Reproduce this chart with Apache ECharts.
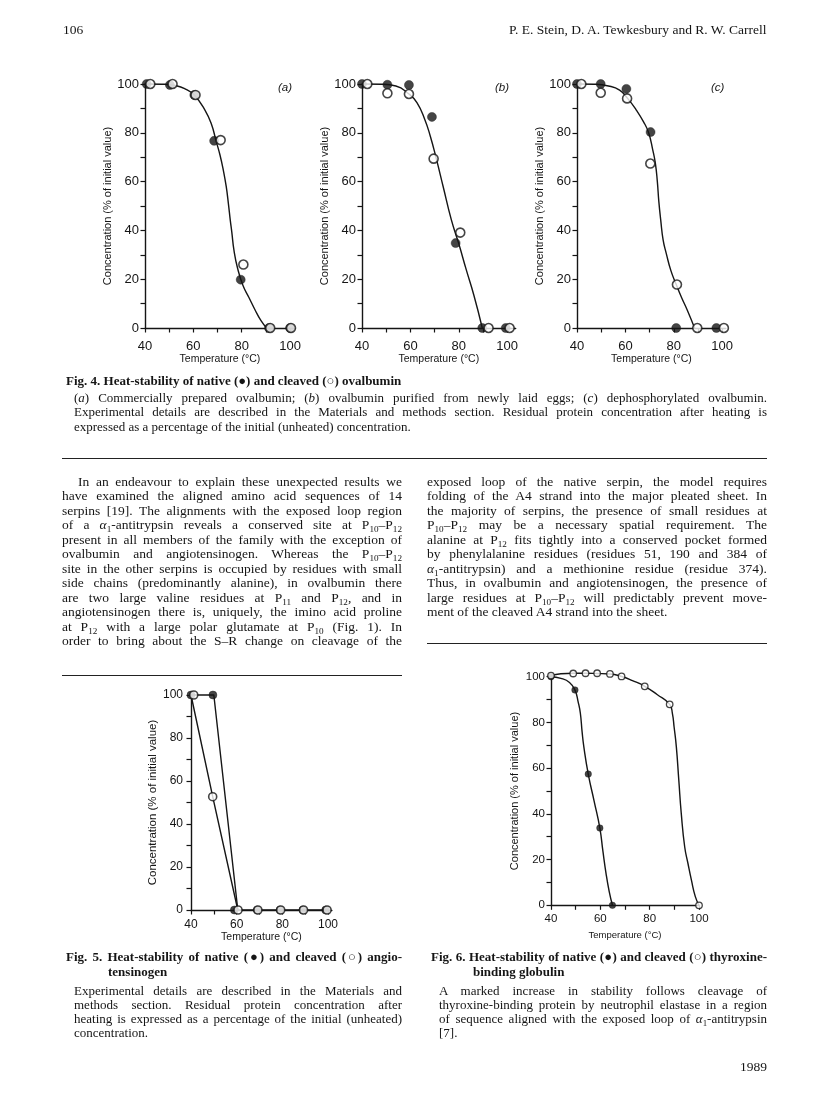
<!DOCTYPE html>
<html>
<head>
<meta charset="utf-8">
<script src="https://cdn.jsdelivr.net/npm/echarts@6/dist/echarts.min.js"></script>
<style>
body { margin: 0; background: #fff; }
#page { position: relative; width: 816px; height: 1097px; overflow: hidden;
  font-family: "Liberation Serif", "Times New Roman", serif; color: #151515; }
#chart { position: absolute; left: 0; top: 0; width: 816px; height: 1097px; }
.ln { position: absolute; white-space: nowrap; line-height: 14px; }
.jl { text-align: justify; text-align-last: justify; white-space: normal; }
.bold { font-weight: bold; }
.rule { position: absolute; height: 0; border-top: 1.3px solid #222; }
sub { font-size: 68%; line-height: 0; vertical-align: -0.3em; }
</style>
</head>
<body>
<div id="page">
  <div id="chart"></div>
</div>
<script>
// ---- data (temperature, % of initial value) ----

// Fig. 4 (a) commercially prepared ovalbumin
var fig4aNative  = [[40.7,100],[50.3,99.6],[60.4,95.5],[68.6,76.7],[79.6,19.8],[91.3,0],[100,0]];
var fig4aCleaved = [[42.2,100],[51.4,100],[60.9,95.5],[71.3,77],[80.7,26],[91.8,0],[100.4,0]];
var fig4aCurve   = [[40,100],[47,99.9],[53,99.3],[57,97.8],[60.4,95.5],[64.8,89.3],[67.5,83.5],
                    [69.4,76.7],[71,71],[72.4,64.7],[73.6,58],[74.5,51],[75.3,44],[75.9,39.4],
                    [76.8,31.9],[78.3,24.5],[80.5,17.5],[83,12.5],[85.5,7.5],[88,3],[90.3,0]];

// Fig. 4 (b) ovalbumin from newly laid eggs
var fig4bNative  = [[40,100],[50.5,99.7],[59.4,99.6],[68.9,86.5],[78.7,34.8],[89.7,0],[99.4,0]];
var fig4bCleaved = [[42.2,100],[50.5,96.2],[59.4,95.9],[69.6,69.4],[80.6,39.1],[92.3,0],[101,0]];
var fig4bCurve   = [[40,100],[48,99.9],[54,99.2],[59.4,95.9],[62.7,92.4],[65.9,85.6],[68.2,78.7],
                    [70.7,69.4],[73.5,58.1],[76.9,44.4],[80,34.5],[83.1,23.8],[86.2,13.5],[89.7,0]];

// Fig. 4 (c) dephosphorylated ovalbumin
var fig4cNative  = [[40,100],[49.8,100],[60.4,98],[70.4,80.3],[81,0],[97.6,0]];
var fig4cCleaved = [[41.8,100],[49.8,96.4],[60.7,94.1],[70.3,67.4],[81.3,17.8],[89.7,0],[100.7,0]];
var fig4cCurve   = [[40,100],[47,99.9],[53,99.2],[57.6,97.5],[61,94],[64.5,89.3],[67.5,84.5],
                    [69.6,80],[71.3,73],[72.4,67.4],[73.2,60],[73.8,52],[74.6,44.2],[75.6,36],
                    [76.9,30.5],[78.8,23.5],[81,17.8],[83.2,12.5],[85.5,7.5],[88.6,0]];

// Fig. 5 angiotensinogen
var fig5Native       = [[40,100],[49.6,100],[59,0],[69,0],[79,0],[89,0],[99,0]];
var fig5Cleaved      = [[41.2,100],[49.5,52.7],[60.6,0],[69.3,0],[79.3,0],[89.3,0],[99.6,0]];
var fig5NativeLine   = [[40,100],[50,100],[60.5,0]];
var fig5CleavedLine  = [[40,100],[49.5,52.7],[60.5,0],[100,0]];

// Fig. 6 thyroxine-binding globulin
var fig6Native       = [[40,100],[49.7,94.2],[55.1,57.4],[59.8,33.8],[64.9,0]];
var fig6Cleaved      = [[40,100.5],[49,101.4],[54,101.5],[58.7,101.5],[63.9,101.2],[68.6,100.1],
                        [78,95.8],[88.1,87.9],[100,0]];
var fig6NativeLine   = [[40,100],[44,99.3],[47.5,97.5],[49.7,94.2],[51,89],[51.9,84],[52.6,76],
                        [53.3,69.4],[55.1,57.4],[57.5,45.5],[59.8,33.8],[61,24],[62.3,14],
                        [63.6,6],[64.9,0]];
var fig6CleavedLine  = [[40,100.5],[44,101.3],[49,101.5],[54,101.5],[58.7,101.4],[63.9,101.2],
                        [68.6,100.1],[73,98.3],[78,95.8],[83,92.2],[88.1,87.9],[89.2,84],
                        [89.9,78],[90.8,69.4],[91.8,54.8],[92.8,40.2],[94.2,25.5],[95.5,18.4],
                        [96.9,11.1],[98.5,3.8],[100,0]];

var tempTicks  = [40,50,60,70,80,90,100];
var tempLabels = [40,60,80,100];
var concTicks  = [0,10,20,30,40,50,60,70,80,90,100];
var concLabels = [0,20,40,60,80,100];

// ---- text of the page ----
var leftLines = [
  'In an endeavour to explain these unexpected results we',
  'have examined the aligned amino acid sequences of 14',
  'serpins [19]. The alignments with the exposed loop region',
  'of a <i>α</i><sub>1</sub>-antitrypsin reveals a conserved site at P<sub>10</sub>–P<sub>12</sub>',
  'present in all members of the family with the exception of',
  'ovalbumin and angiotensinogen. Whereas the P<sub>10</sub>–P<sub>12</sub>',
  'site in the other serpins is occupied by residues with small',
  'side chains (predominantly alanine), in ovalbumin there',
  'are two large valine residues at P<sub>11</sub> and P<sub>12</sub>, and in',
  'angiotensinogen there is, uniquely, the imino acid proline',
  'at P<sub>12</sub> with a large polar glutamate at P<sub>10</sub> (Fig. 1). In',
  'order to bring about the S–R change on cleavage of the'
];
var rightLines = [
  'exposed loop of the native serpin, the model requires',
  'folding of the A4 strand into the major pleated sheet. In',
  'the majority of serpins, the presence of small residues at',
  'P<sub>10</sub>–P<sub>12</sub> may be a necessary spatial requirement. The',
  'alanine at P<sub>12</sub> fits tightly into a conserved pocket formed',
  'by phenylalanine residues (residues 51, 190 and 384 of',
  '<i>α</i><sub>1</sub>-antitrypsin) and a methionine residue (residue 374).',
  'Thus, in ovalbumin and angiotensinogen, the presence of',
  'large residues at P<sub>10</sub>–P<sub>12</sub> will predictably prevent move-',
  'ment of the cleaved A4 strand into the sheet.'
];
var fig4Caption = [
  '(<i>a</i>) Commercially prepared ovalbumin; (<i>b</i>) ovalbumin purified from newly laid eggs; (<i>c</i>) dephosphorylated ovalbumin.',
  'Experimental details are described in the Materials and methods section. Residual protein concentration after heating is',
  'expressed as a percentage of the initial (unheated) concentration.'
];
var fig5Caption = [
  'Experimental details are described in the Materials and',
  'methods section. Residual protein concentration after',
  'heating is expressed as a percentage of the initial (unheated)',
  'concentration.'
];
var fig6Caption = [
  'A marked increase in stability follows cleavage of',
  'thyroxine-binding protein by neutrophil elastase in a region',
  'of sequence aligned with the exposed loop of <i>α</i><sub>1</sub>-antitrypsin',
  '[7].'
];

var page = document.getElementById('page');

function addLine(html, x, y, w, size, cls) {
  var d = document.createElement('div');
  d.className = 'ln' + (cls ? ' ' + cls : '');
  d.style.left = x + 'px';
  d.style.top = (y - 7) + 'px';
  if (w) d.style.width = w + 'px';
  d.style.fontSize = size + 'px';
  d.innerHTML = html;
  page.appendChild(d);
  return d;
}
// justified block, last line left aligned unless it continues
function addBlock(lines, x, y0, w, lh, size, lastJustified, indent) {
  lines.forEach(function (s, i) {
    var last = i === lines.length - 1 && !lastJustified;
    var ind = (i === 0 && indent) ? indent : 0;
    addLine(s, x + ind, y0 + i * lh, last ? null : w - ind, size, last ? '' : 'jl');
  });
}
function addRule(x, y, w) {
  var d = document.createElement('div');
  d.className = 'rule';
  d.style.left = x + 'px'; d.style.top = y + 'px'; d.style.width = w + 'px';
  page.appendChild(d);
}

var LX = 62, LW = 340, RX = 427, RW = 340;

// running head
addLine('106', 63, 30, null, 13.5);
var head = addLine('P. E. Stein, D. A. Tewkesbury and R. W. Carrell', 0, 30, null, 13.5);
head.style.left = (RX + RW - head.offsetWidth) + 'px';

// Fig. 4 caption
addLine('Fig. 4. Heat-stability of native (●) and cleaved (○) ovalbumin', LX + 4, 381, null, 13, 'bold');
addBlock(fig4Caption, LX + 12, 397.5, RX + RW - LX - 12, 14.5, 13, false);
addRule(LX, 458, RX + RW - LX);

// body text
addBlock(leftLines, LX, 481.5, LW, 14.5, 13.5, true, 16);
addBlock(rightLines, RX, 481.5, RW, 14.5, 13.5, false);
addRule(LX, 675, LW);
addRule(RX, 643, RW);

// Fig. 5 / Fig. 6 captions
addLine('Fig. 5. Heat-stability of native (●) and cleaved (○) angio-', LX + 4, 957, LW - 4, 13, 'bold jl');
addLine('tensinogen', LX + 46, 972, null, 13, 'bold');
addBlock(fig5Caption, LX + 12, 991, LW - 12, 14, 13, false);
addLine('Fig. 6. Heat-stability of native (●) and cleaved (○) thyroxine-', RX + 4, 957, RW - 4, 13, 'bold jl');
addLine('binding globulin', RX + 46, 972, null, 13, 'bold');
addBlock(fig6Caption, RX + 12, 991, RW - 12, 14, 13, false);

var foot = addLine('1989', 0, 1067, null, 13.5);
foot.style.left = (RX + RW - foot.offsetWidth) + 'px';

// ---- charts ----
var SANS = '"Liberation Sans", Arial, Helvetica, sans-serif';
var INK = '#151515';

// layout of the five plot areas (pixels on the page)
var panels = [
  { left: 145, top: 84,    xmax: 102,   pxPer: 2.417, height: 244,   lab: 13,   name: 11,   xName: 10.5, xGap: 25, yGap: 32, xMargin: 12, yMargin: 6, sym: 9 },
  { left: 362, top: 84,    xmax: 103.5, pxPer: 2.42,  height: 244,   lab: 13,   name: 11,   xName: 10.5, xGap: 25, yGap: 32, xMargin: 12, yMargin: 6, sym: 9 },
  { left: 577, top: 84,    xmax: 101.5, pxPer: 2.42,  height: 244,   lab: 13,   name: 11,   xName: 10.5, xGap: 25, yGap: 32, xMargin: 12, yMargin: 6, sym: 9 },
  { left: 191, top: 695,   xmax: 101.7, pxPer: 2.283, height: 215,   lab: 12,   name: 11.5, xName: 10.5, xGap: 22, yGap: 30, xMargin: 9,  yMargin: 8, sym: 8 },
  { left: 551, top: 676.7, xmax: 100,   pxPer: 2.467, height: 228.6, lab: 11.5, name: 11,   xName: 9.5,  xGap: 25, yGap: 31, xMargin: 8,  yMargin: 6, sym: 6.5 }
];

var grids = [], xAxes = [], yAxes = [], series = [];
panels.forEach(function (p, i) {
  grids.push({ left: p.left, top: p.top, width: (p.xmax - 40) * p.pxPer, height: p.height });
  xAxes.push({
    gridIndex: i, type: 'value', min: 40, max: p.xmax,
    name: 'Temperature (°C)', nameLocation: 'middle', nameGap: p.xGap,
    nameTextStyle: { fontFamily: SANS, fontSize: p.xName, color: INK },
    axisLine: { onZero: false, lineStyle: { color: INK, width: 1.4 } },
    axisTick: { customValues: tempTicks, length: 4.5, lineStyle: { color: INK, width: 1.2 } },
    axisLabel: { customValues: tempLabels, fontFamily: SANS, fontSize: p.lab, color: INK, margin: p.xMargin },
    splitLine: { show: false }
  });
  yAxes.push({
    gridIndex: i, type: 'value', min: 0, max: 100,
    name: 'Concentration (% of initial value)', nameLocation: 'middle', nameGap: p.yGap,
    nameTextStyle: { fontFamily: SANS, fontSize: p.name, color: INK },
    axisLine: { onZero: false, lineStyle: { color: INK, width: 1.4 } },
    axisTick: { customValues: concTicks, length: 4.5, lineStyle: { color: INK, width: 1.2 } },
    axisLabel: { customValues: concLabels, fontFamily: SANS, fontSize: p.lab, color: INK, margin: p.yMargin },
    splitLine: { show: false }
  });
});

function curve(i, data, smooth) {
  series.push({ type: 'line', xAxisIndex: i, yAxisIndex: i, data: data, smooth: smooth,
    showSymbol: false, symbol: 'none', clip: false, silent: true, z: 2,
    lineStyle: { color: INK, width: 1.4, join: 'round', cap: 'round' } });
}
function points(i, data, filled) {
  var s = panels[i].sym;
  series.push({ type: 'scatter', xAxisIndex: i, yAxisIndex: i, data: data, symbol: 'circle',
    symbolSize: s, clip: false, z: filled ? 3 : 4,
    itemStyle: filled ? { color: INK, borderColor: INK, borderWidth: 0.5 }
                      : { color: '#fff', borderColor: INK, borderWidth: s > 7 ? 1.6 : 1.3 } });
}

curve(0, fig4aCurve, 0.5);   points(0, fig4aNative, true); points(0, fig4aCleaved, false);
curve(1, fig4bCurve, 0.5);   points(1, fig4bNative, true); points(1, fig4bCleaved, false);
curve(2, fig4cCurve, 0.5);   points(2, fig4cNative, true); points(2, fig4cCleaved, false);
curve(3, fig5NativeLine, false); curve(3, fig5CleavedLine, false);
points(3, fig5Native, true); points(3, fig5Cleaved, false);
curve(4, fig6NativeLine, 0.5); curve(4, fig6CleavedLine, 0.5);
points(4, fig6Native, true); points(4, fig6Cleaved, false);

var panelTag = { fontFamily: SANS, fontSize: 11.5, fontStyle: 'italic', fontWeight: 'normal', color: INK };
var option = {
  animation: false,
  title: [
    { text: '(a)', left: 273, top: 77, textStyle: panelTag },
    { text: '(b)', left: 490, top: 77, textStyle: panelTag },
    { text: '(c)', left: 706, top: 77, textStyle: panelTag }
  ],
  grid: grids,
  xAxis: xAxes,
  yAxis: yAxes,
  series: series
};

var chart = echarts.init(document.getElementById('chart'), null, { renderer: 'canvas' });
chart.setOption(option);
</script>
</body>
</html>
